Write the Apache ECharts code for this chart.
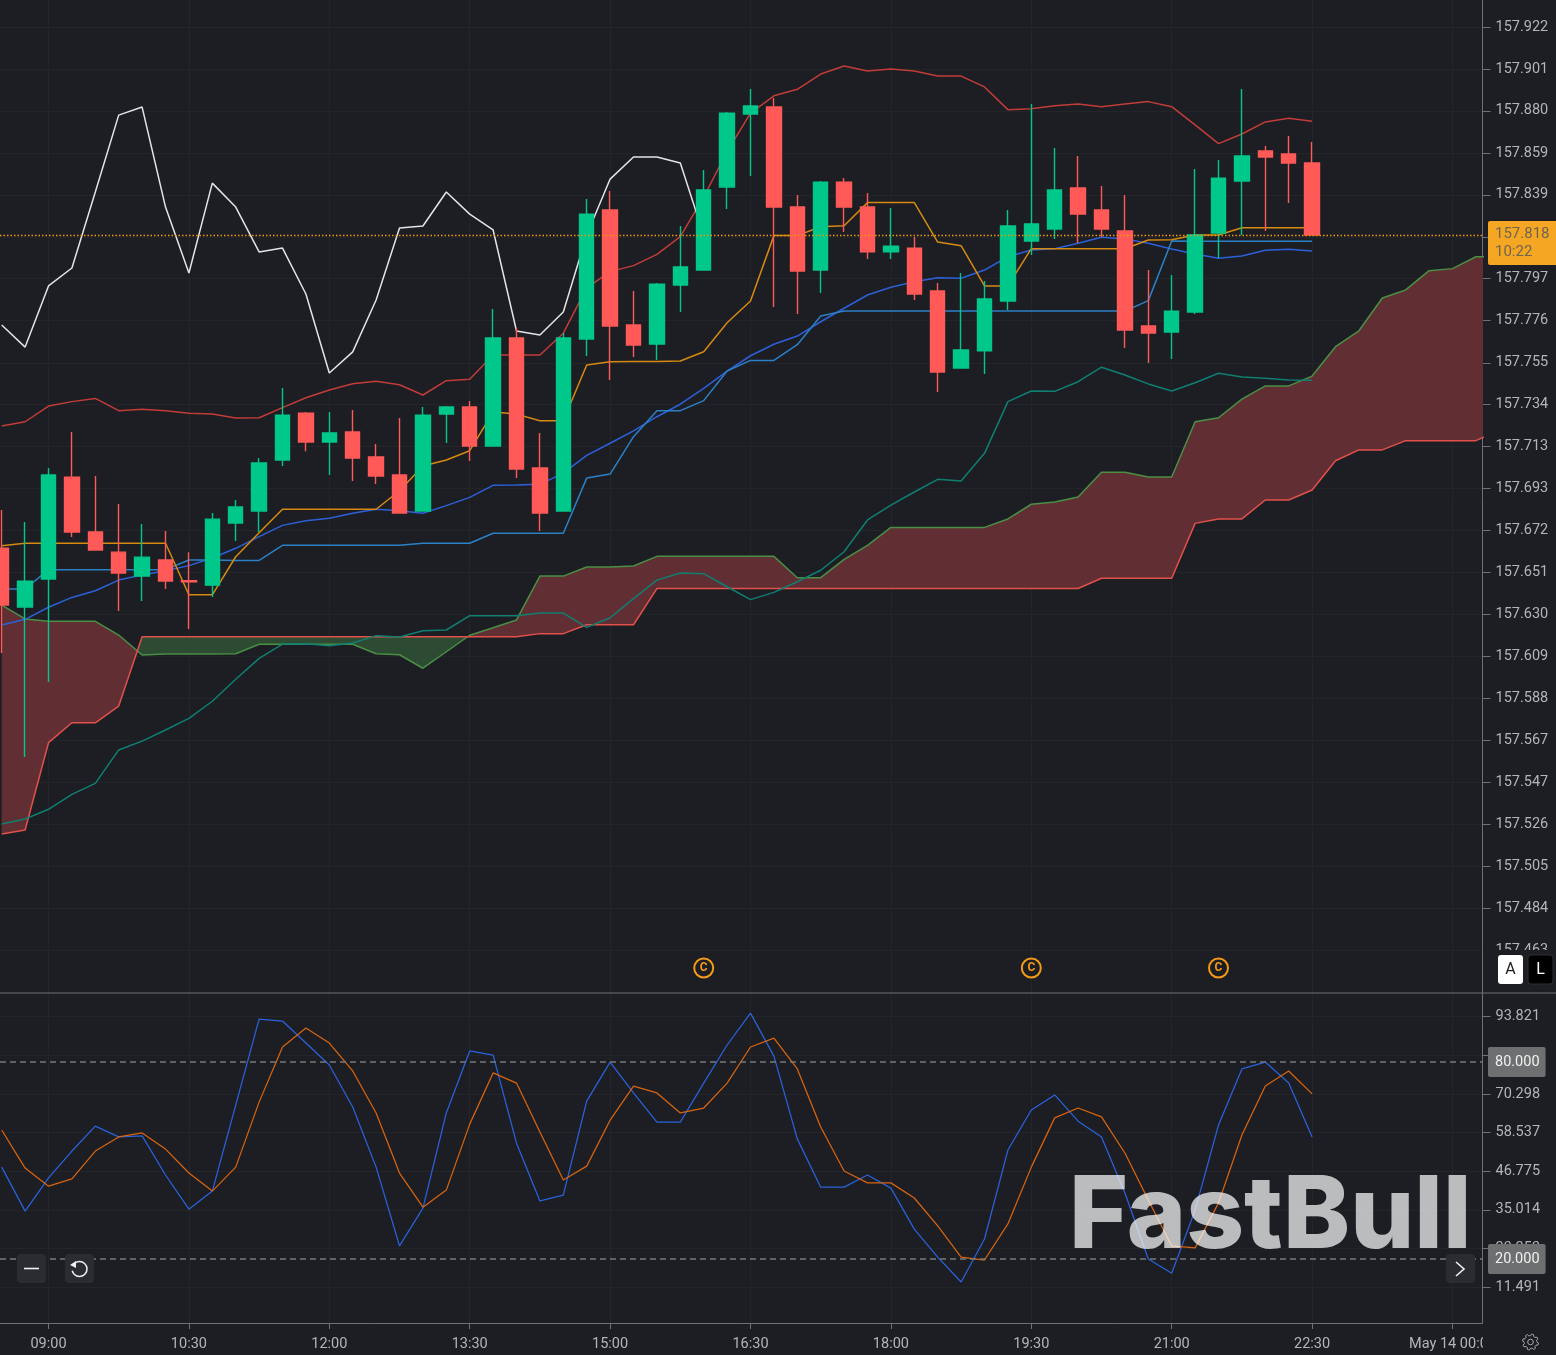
<!DOCTYPE html>
<html>
<head>
<meta charset="utf-8">
<title>FastBull chart</title>
<script src="https://cdn.jsdelivr.net/npm/echarts@6/dist/echarts.min.js"></script>
<style>
  html, body { margin: 0; padding: 0; background: #1c1e23; }
  #main { width: 1556px; height: 1355px; }
</style>
</head>
<body>
<div id="main"></div>
<script>
// 15 minute candles, first one at 08:30 (minutes since midnight)
var firstBar = 510;
var barStep = 15;

var opens = [157.6630,157.6337,157.6476,157.6983,157.6710,157.6610,157.6491,157.6571,157.6468,157.6446,
  157.6755,157.6814,157.7068,157.7301,157.7157,157.7207,157.7083,157.6993,157.6814,157.7296,
  157.7331,157.7137,157.7674,157.7028,157.6814,157.7669,157.8310,157.7739,157.7644,157.7937,
  157.8012,157.8425,157.8787,157.8822,157.8325,157.8012,157.8449,157.8325,157.8102,157.8121,
  157.7908,157.7525,157.7610,157.7858,157.8156,157.8216,157.8420,157.8310,157.8206,157.7734,
  157.7704,157.7803,157.8196,157.8454,157.8604,157.8589,157.8544];
var closes = [157.6347,157.6466,157.6993,157.6710,157.6620,157.6506,157.6585,157.6466,157.6463,157.6774,
  157.6834,157.7053,157.7291,157.7157,157.7202,157.7078,157.6988,157.6804,157.7291,157.7331,
  157.7137,157.7674,157.7023,157.6804,157.7674,157.8290,157.7734,157.7639,157.7942,157.8027,
  157.8410,157.8792,157.8827,157.8325,157.8007,157.8449,157.8325,157.8102,157.8131,157.7893,
  157.7505,157.7615,157.7868,157.8231,157.8241,157.8410,157.8290,157.8216,157.7714,157.7699,
  157.7808,157.8186,157.8469,157.8579,157.8574,157.8544,157.8186];
var lows = [157.6109,157.5592,157.5964,157.6685,157.6620,157.6317,157.6367,157.6427,157.6228,157.6387,
  157.6665,157.6710,157.7038,157.7112,157.6993,157.6963,157.6949,157.6804,157.6814,157.7152,
  157.7063,157.7137,157.6978,157.6715,157.6814,157.7585,157.7465,157.7580,157.7565,157.7803,
  157.8012,157.8315,157.8479,157.7828,157.7793,157.7898,157.8201,157.8067,157.8067,157.7863,
  157.7406,157.7525,157.7495,157.7813,157.8087,157.8166,157.8146,157.8176,157.7625,157.7550,
  157.7570,157.7793,157.8072,157.8186,157.8206,157.8345,157.8186];
var highs = [157.6819,157.6760,157.7028,157.7207,157.6988,157.6849,157.6750,157.6715,157.6610,157.6804,
  157.6869,157.7078,157.7426,157.7306,157.7306,157.7316,157.7147,157.7277,157.7331,157.7336,
  157.7361,157.7818,157.7724,157.7202,157.7699,157.8365,157.8405,157.7908,157.7947,157.8231,
  157.8509,157.8797,157.8912,157.8867,157.8385,157.8454,157.8469,157.8395,157.8320,157.8176,
  157.7947,157.7997,157.7957,157.8310,157.8837,157.8618,157.8579,157.8430,157.8385,157.8012,
  157.7987,157.8514,157.8559,157.8912,157.8628,157.8678,157.8648];

// bollinger
var bollUpper = [157.7237,157.7258,157.7336,157.7358,157.7374,157.7313,157.7320,157.7313,157.7300,157.7296,
  157.7277,157.7278,157.7328,157.7377,157.7416,157.7447,157.7459,157.7442,157.7391,157.7462,
  157.7469,157.7590,157.7590,157.7590,157.7698,157.7923,157.8004,157.8034,157.8090,157.8178,
  157.8375,157.8600,157.8792,157.8878,157.8910,157.8986,157.9026,157.9001,157.9011,157.9001,
  157.8976,157.8976,157.8922,157.8809,157.8814,157.8829,157.8837,157.8824,157.8837,157.8849,
  157.8824,157.8733,157.8640,157.8688,157.8748,157.8766,157.8751];
var bollMid = [157.6248,157.6276,157.6336,157.6385,157.6418,157.6471,157.6496,157.6518,157.6543,157.6581,
  157.6629,157.6687,157.6743,157.6766,157.6778,157.6803,157.6823,157.6816,157.6803,157.6841,
  157.6882,157.6942,157.6944,157.6947,157.7003,157.7091,157.7151,157.7213,157.7283,157.7345,
  157.7424,157.7510,157.7586,157.7643,157.7684,157.7755,157.7822,157.7888,157.7926,157.7954,
  157.7974,157.7971,157.8012,157.8078,157.8112,157.8118,157.8145,157.8175,157.8166,157.8145,
  157.8117,157.8092,157.8070,157.8082,157.8110,157.8115,157.8107];
var bollLower = [157.5259,157.5284,157.5332,157.5406,157.5461,157.5627,157.5671,157.5726,157.5784,157.5869,
  157.5978,157.6082,157.6153,157.6155,157.6145,157.6158,157.6195,157.6188,157.6219,157.6223,
  157.6294,157.6294,157.6294,157.6307,157.6307,157.6236,157.6284,157.6379,157.6471,157.6506,
  157.6503,157.6438,157.6374,157.6410,157.6463,157.6520,157.6612,157.6770,157.6844,157.6909,
  157.6972,157.6963,157.7101,157.7358,157.7411,157.7409,157.7457,157.7529,157.7490,157.7446,
  157.7411,157.7452,157.7499,157.7480,157.7474,157.7465,157.7464];

// ichimoku
var tenkan = [157.6642,157.6654,157.6654,157.6654,157.6654,157.6654,157.6654,157.6654,157.6398,157.6398,
  157.6587,157.6706,157.6823,157.6823,157.6823,157.6823,157.6823,157.6915,157.7038,157.7068,
  157.7114,157.7306,157.7296,157.7263,157.7263,157.7540,157.7556,157.7558,157.7558,157.7560,
  157.7606,157.7750,157.7858,157.8183,157.8183,157.8227,157.8232,157.8347,157.8347,157.8347,
  157.8151,157.8133,157.7933,157.7933,157.8118,157.8118,157.8118,157.8118,157.8118,157.8161,
  157.8163,157.8186,157.8186,157.8222,157.8222,157.8222,157.8222];
var kijun = [157.6427,157.6427,157.6523,157.6523,157.6523,157.6523,157.6523,157.6523,157.6571,157.6571,
  157.6569,157.6569,157.6644,157.6644,157.6644,157.6644,157.6644,157.6644,157.6654,157.6654,
  157.6654,157.6704,157.6704,157.6704,157.6704,157.6978,157.6998,157.7184,157.7313,157.7313,
  157.7363,157.7510,157.7563,157.7563,157.7641,157.7784,157.7808,157.7808,157.7808,157.7808,
  157.7808,157.7808,157.7808,157.7808,157.7808,157.7808,157.7808,157.7808,157.7808,157.7860,
  157.8156,157.8155,157.8155,157.8155,157.8155,157.8155,157.8155];
var chikou = [157.7739,157.7629,157.7933,157.8022,157.8400,157.8782,157.8822,157.8325,157.7997,157.8444,
  157.8325,157.8102,157.8121,157.7893,157.7500,157.7605,157.7863,157.8221,157.8231,157.8400,
  157.8290,157.8211,157.7709,157.7689,157.7803,157.8186,157.8464,157.8574,157.8574,157.8544,
  157.8186];
var spanA = [157.6347,157.6278,157.6266,157.6266,157.6266,157.6198,157.6099,157.6104,157.6104,157.6104,
  157.6105,157.6152,157.6152,157.6152,157.6152,157.6152,157.6105,157.6100,157.6033,157.6115,
  157.6197,157.6234,157.6273,157.6491,157.6491,157.6536,157.6536,157.6541,157.6589,157.6589,
  157.6589,157.6589,157.6589,157.6589,157.6483,157.6483,157.6574,157.6644,157.6733,157.6733,
  157.6733,157.6733,157.6733,157.6775,157.6848,157.6859,157.6884,157.7007,157.7007,157.6983,
  157.6983,157.7258,157.7278,157.7370,157.7436,157.7436,157.7485,157.7631,157.7710,157.7873,
  157.7913,157.8009,157.8019,157.8078,157.8078];
var spanB = [157.5209,157.5229,157.5663,157.5762,157.5762,157.5845,157.6190,157.6190,157.6190,157.6190,
  157.6190,157.6190,157.6190,157.6190,157.6190,157.6190,157.6190,157.6190,157.6190,157.6190,
  157.6190,157.6190,157.6190,157.6205,157.6205,157.6249,157.6249,157.6249,157.6429,157.6429,
  157.6429,157.6429,157.6429,157.6429,157.6429,157.6429,157.6429,157.6429,157.6429,157.6429,
  157.6429,157.6429,157.6429,157.6429,157.6429,157.6429,157.6429,157.6480,157.6480,157.6480,
  157.6480,157.6753,157.6775,157.6775,157.6869,157.6869,157.6919,157.7064,157.7118,157.7118,
  157.7164,157.7164,157.7164,157.7164,157.7217];

// stochastic pane
var stochK = [48.0,34.6,44.7,52.9,60.5,57.2,57.5,45.6,35.2,40.7,
  66.9,93.1,92.5,85.8,79.1,66.3,48.0,24.0,35.5,64.5,
  83.4,82.1,55.3,37.7,39.5,68.1,80.0,70.6,61.7,61.7,
  73.6,85.2,94.9,81.8,56.6,41.9,41.9,45.6,41.6,29.1,
  20.6,13.0,26.1,53.2,65.4,70.0,62.0,57.2,40.1,20.0,
  15.7,34.9,60.8,77.9,80.0,73.6,57.2];
var stochD = [59.3,47.7,42.2,44.4,52.9,57.2,58.4,53.5,46.2,40.7,
  48.0,67.8,84.6,90.4,85.8,77.3,64.5,46.2,35.8,41.0,
  61.1,76.7,73.6,58.7,44.1,48.3,62.3,72.7,70.6,64.5,
  66.0,73.6,84.6,87.3,77.9,60.2,46.8,43.2,43.2,38.6,
  30.1,20.6,19.7,30.7,48.0,63.0,66.0,63.3,52.3,38.0,
  24.0,23.4,37.1,57.8,72.7,77.3,70.3];

var priceTicks = [157.9220,157.9011,157.8803,157.8594,157.8386,157.8177,157.7969,157.7760,157.7551,157.7343,
  157.7134,157.6926,157.6717,157.6509,157.6300,157.6091,157.5883,157.5674,157.5466,157.5257,
  157.5049,157.4840,157.4631];
var stochTicks = [93.821,82.060,70.298,58.537,46.775,35.014,23.253,11.491];
var timeTicks = [540,630,720,810,900,990,1080,1170,1260,1350,1440];
var eventTimes = [960,1170,1290];
var eventPrice = 157.4543;
var lastPrice = 157.8186;
var lastPriceText = '157.818';
var countdown = '10:22';
var stochLevels = [80,20];

var BG = '#1c1e23', GRID = '#232529', AXIS = '#6f7175', TXT = '#b4b5b7';
var UP = '#00c78a', DOWN = '#ff5a58';
var FONT = 'Roboto';
var LABEL_SIZE = 14.5;

function barTime(i) { return firstBar + barStep * i; }
function pairs(vals) { return vals.map(function (v, i) { return [barTime(i), v]; }); }
function fmtTime(m) {
  if (m === 1440) return 'May 14 00:00';
  var h = Math.floor(m / 60), mm = m % 60;
  return (h < 10 ? '0' : '') + h + ':' + (mm < 10 ? '0' : '') + mm;
}

function lineSeries(name, vals, color, xIdx, yIdx, z, width) {
  return {
    name: name, type: 'line', xAxisIndex: xIdx, yAxisIndex: yIdx, data: pairs(vals),
    showSymbol: false, symbol: 'none', z: z, clip: true, silent: true,
    lineStyle: { color: color, width: width || 1.5 }
  };
}

// kumo between spanA and spanB: one polygon per run where the same span stays on top
function renderCloud(params, api) {
  var kids = [];
  var top = [], bottom = [];
  function flush(above) {
    if (top.length < 2) return;
    var pts = top.concat(bottom.slice().reverse()).map(function (p) { return api.coord(p); });
    var c = above ? '#612f33' : '#2d4a32';
    kids.push({ type: 'polygon', shape: { points: pts }, style: { fill: c } });
  }
  top.push([barTime(0), spanA[0]]);
  bottom.push([barTime(0), spanB[0]]);
  for (var i = 0; i < spanA.length - 1; i++) {
    var d0 = spanA[i] - spanB[i], d1 = spanA[i + 1] - spanB[i + 1];
    if (d0 * d1 < 0) {
      var f = d0 / (d0 - d1);
      var cross = [barTime(i) + barStep * f, spanA[i] + (spanA[i + 1] - spanA[i]) * f];
      top.push(cross);
      bottom.push(cross);
      flush(d0 > 0);
      top = [cross];
      bottom = [cross];
    }
    top.push([barTime(i + 1), spanA[i + 1]]);
    bottom.push([barTime(i + 1), spanB[i + 1]]);
  }
  flush(spanA[spanA.length - 1] > spanB[spanB.length - 1]);
  return { type: 'group', children: kids };
}

function gearPoints(cx, cy) {
  var pts = [];
  for (var i = 0; i < 48; i++) {
    var a = i / 48 * Math.PI * 2;
    var r = (i % 6 < 3) ? 8 : 6.3;
    pts.push([cx + r * Math.cos(a + 0.13), cy + r * Math.sin(a + 0.13)]);
  }
  return pts;
}

function button(x, y, fill) {
  return { type: 'rect', z: 110, shape: { x: x, y: y, width: 29, height: 29, r: 4 }, style: { fill: fill } };
}

var candleData = opens.map(function (o, i) { return [barTime(i), o, closes[i], lows[i], highs[i]]; });

var option = {
  backgroundColor: BG,
  animation: false,
  textStyle: { fontFamily: FONT },
  grid: [
    { left: 0, top: 0, width: 1482.5, height: 993 },
    { left: 0, top: 993, width: 1482.5, height: 330 }
  ],
  xAxis: [
    {
      type: 'value', gridIndex: 0, min: 508.9, max: 1459.23,
      axisLine: { show: false },
      axisTick: { show: false, customValues: timeTicks },
      axisLabel: { show: false, customValues: timeTicks },
      splitLine: { show: true, lineStyle: { color: GRID } }
    },
    {
      type: 'value', gridIndex: 1, min: 508.9, max: 1459.23,
      axisLine: { onZero: false, lineStyle: { color: AXIS } },
      axisTick: { length: 6, lineStyle: { color: AXIS }, customValues: timeTicks },
      axisLabel: { color: TXT, fontSize: LABEL_SIZE, fontFamily: FONT, margin: 14, customValues: timeTicks, formatter: fmtTime, hideOverlap: false },
      splitLine: { show: true, lineStyle: { color: GRID } }
    }
  ],
  yAxis: [
    {
      type: 'value', gridIndex: 0, position: 'right', scale: true, min: 157.4419, max: 157.9354,
      axisLine: { show: true, onZero: false, lineStyle: { color: AXIS } },
      axisTick: { show: true, length: 8, lineStyle: { color: AXIS }, customValues: priceTicks },
      axisLabel: { color: TXT, fontSize: LABEL_SIZE, fontFamily: FONT, margin: 13, padding: [5, 0, 0, 0], customValues: priceTicks,
        formatter: function (v) { return v.toFixed(3); } },
      splitLine: { show: true, lineStyle: { color: GRID } }
    },
    {
      type: 'value', gridIndex: 1, position: 'right', min: 0.52, max: 101.04,
      axisLine: { show: true, onZero: false, lineStyle: { color: AXIS } },
      axisTick: { show: true, length: 8, lineStyle: { color: AXIS }, customValues: stochTicks },
      axisLabel: { color: TXT, fontSize: LABEL_SIZE, fontFamily: FONT, margin: 13, padding: [5, 0, 0, 0], customValues: stochTicks,
        formatter: function (v) { return v.toFixed(3); } },
      splitLine: { show: true, lineStyle: { color: GRID } }
    }
  ],
  series: [
    {
      name: 'kumo', type: 'custom', xAxisIndex: 0, yAxisIndex: 0, z: 1, clip: true, silent: true,
      renderItem: renderCloud,
      data: [[barTime(0), spanA[0]]],
      encode: { x: 0, y: 1 }
    },
    lineSeries('spanA', spanA, '#4a8f45', 0, 0, 2),
    lineSeries('spanB', spanB, '#e2504c', 0, 0, 2),
    lineSeries('bollUpper', bollUpper, '#c23c38', 0, 0, 2),
    lineSeries('bollMid', bollMid, '#2d60d8', 0, 0, 2),
    lineSeries('bollLower', bollLower, '#0f7f72', 0, 0, 2),
    lineSeries('kijun', kijun, '#2b80c6', 0, 0, 2),
    lineSeries('tenkan', tenkan, '#d68a10', 0, 0, 2),
    lineSeries('chikou', chikou, '#e4e4e4', 0, 0, 2),
    {
      name: 'candles', type: 'candlestick', xAxisIndex: 0, yAxisIndex: 0, z: 3, clip: true, silent: true,
      barWidth: 15,
      data: candleData,
      itemStyle: { color: UP, color0: DOWN, borderColor: UP, borderColor0: DOWN, borderColorDoji: DOWN, borderWidth: 1.4 },
      markLine: {
        silent: true, symbol: 'none', animation: false, precision: 4,
        data: [{ yAxis: lastPrice }],
        lineStyle: { color: '#f0980c', type: [1.5, 2], width: 1.3, opacity: 1 },
        label: {
          show: true, position: 'end', distance: 5.5, offset: [0, 8],
          formatter: function () { return lastPriceText + '\n' + countdown; },
          backgroundColor: '#f5a623', color: '#6e6650', fontSize: 15, fontFamily: FONT, lineHeight: 18,
          padding: [7, 8, 1, 7], borderRadius: 2, align: 'left'
        }
      }
    },
    {
      name: 'events', type: 'scatter', xAxisIndex: 0, yAxisIndex: 0, z: 4, silent: true,
      data: eventTimes.map(function (t) { return [t, eventPrice]; }),
      symbol: 'circle', symbolSize: 19,
      itemStyle: { color: BG, borderColor: '#f59a17', borderWidth: 2, opacity: 1 },
      label: { show: true, position: 'inside', formatter: 'C', color: '#f59a17', fontSize: 12, fontWeight: 'bold', fontFamily: FONT }
    },
    lineSeries('stochK', stochK, '#2a62dc', 1, 1, 3, 1.25),
    lineSeries('stochD', stochD, '#d9640f', 1, 1, 3, 1.25),
    {
      name: 'levels', type: 'line', xAxisIndex: 1, yAxisIndex: 1, data: [], z: 2, silent: true,
      markLine: {
        silent: true, symbol: 'none', animation: false,
        data: stochLevels.map(function (v) { return { yAxis: v }; }),
        lineStyle: { color: '#77787a', type: [6, 4], width: 1.5 },
        label: {
          show: true, position: 'end', distance: 5.5,
          formatter: function (p) { return p.value.toFixed(3); },
          backgroundColor: '#6e6f71', color: '#f0f0f0', fontSize: LABEL_SIZE, fontFamily: FONT,
          padding: [7, 6, 8, 7], borderRadius: 2, align: 'left'
        }
      }
    }
  ],
  graphic: [
    // hides what is cut off at the pane edges
    { type: 'rect', z: 100, shape: { x: 1483, y: 950, width: 73, height: 42.5 }, style: { fill: BG } },
    { type: 'rect', z: 100, shape: { x: 1483, y: 1324, width: 73, height: 31 }, style: { fill: BG } },
    { type: 'line', z: 101, shape: { x1: 0, y1: 993, x2: 1556, y2: 993 }, style: { stroke: AXIS, lineWidth: 1 } },

    // watermark
    { type: 'text', z: 90, silent: true,
      style: { x: 1069, y: 1217.5, text: 'FastBull', font: '800 101px Inter', fill: 'rgba(255,255,255,0.7)', verticalAlign: 'middle', align: 'left' } },

    // A / L scale buttons
    { type: 'rect', z: 110, shape: { x: 1498, y: 955, width: 25, height: 29, r: 3 }, style: { fill: '#ffffff' } },
    { type: 'text', z: 111, style: { x: 1510.5, y: 970, text: 'A', font: '16px Roboto', fill: '#1c1e23', align: 'center', verticalAlign: 'middle' } },
    { type: 'rect', z: 110, shape: { x: 1528, y: 955, width: 25, height: 29, r: 3 }, style: { fill: '#000000', stroke: '#2c2e33' } },
    { type: 'text', z: 111, style: { x: 1540.5, y: 970, text: 'L', font: '16px Roboto', fill: '#ffffff', align: 'center', verticalAlign: 'middle' } },

    // chart controls
    button(17, 1254, '#2a2c31'),
    { type: 'line', z: 111, shape: { x1: 24, y1: 1268.5, x2: 39, y2: 1268.5 }, style: { stroke: '#f0f0f0', lineWidth: 1.6 } },
    button(65, 1254, '#2a2c31'),
    { type: 'arc', z: 111, shape: { cx: 79.5, cy: 1269, r: 7.5, startAngle: -2.4, endAngle: 2.9, clockwise: true }, style: { stroke: '#f0f0f0', fill: 'none', lineWidth: 1.5 } },
    { type: 'polygon', z: 111, shape: { points: [[70, 1265], [76, 1261], [76, 1268]] }, style: { fill: '#f0f0f0' } },
    button(1446, 1254, '#2a2c31'),
    { type: 'polyline', z: 111, shape: { points: [[1456, 1262], [1464, 1269], [1456, 1276]] }, style: { stroke: '#f0f0f0', fill: 'none', lineWidth: 1.6 } },

    // settings gear
    { type: 'polygon', z: 111, shape: { points: gearPoints(1530.5, 1342) }, style: { stroke: '#a8a9ab', fill: 'none', lineWidth: 1 } },
    { type: 'circle', z: 111, shape: { cx: 1530.5, cy: 1342, r: 2.8 }, style: { stroke: '#a8a9ab', fill: 'none', lineWidth: 1 } }
  ]
};

var myChart = echarts.init(document.getElementById('main'));
myChart.setOption(option);
</script>
</body>
</html>
